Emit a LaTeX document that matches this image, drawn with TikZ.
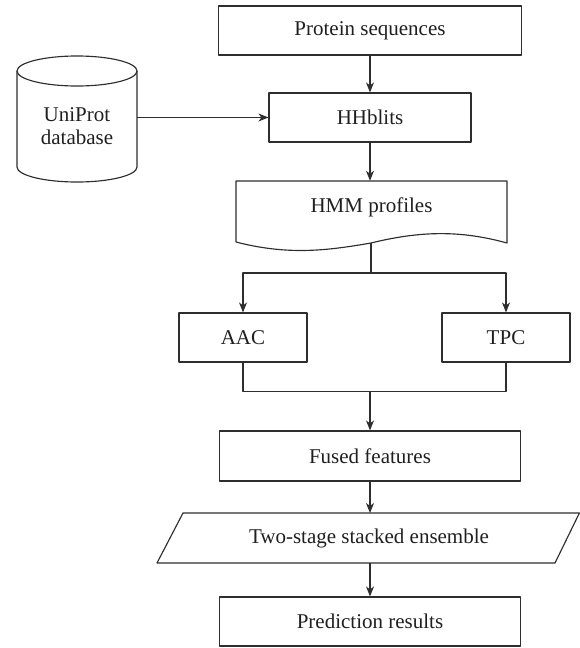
\documentclass[tikz,border=0pt]{standalone}
\usepackage{fontspec}
\setmainfont{Liberation Serif}
\usetikzlibrary{arrows.meta,calc}
\begin{document}
\begin{tikzpicture}[x=1pt,y=-1pt,
  every node/.style={font=\fontsize{21}{23}\selectfont, text=black!88},
  conn/.style={draw=black!82, line width=1.15pt, line join=round},
  arr/.style={conn, -{Stealth[length=10pt,width=8pt,inset=3pt]}},
  procbox/.style={conn, minimum width=303pt, minimum height=49pt, inner sep=0pt},
  plain/.style={inner sep=0pt, align=center}]
\useasboundingbox (0,0) rectangle (580,648);
% nodes
\node[procbox] (prot) at (370,30.5) {Protein sequences};
\node[procbox, minimum width=202pt] (hh) at (370,117.5) {HHblits};
\node[plain] (uni) at (77,126) {UniProt\\database};
\node[plain, minimum width=271pt, minimum height=52pt] (hmm) at (371.5,207) {HMM profiles};
\node[procbox, minimum width=128pt] (aac) at (243,337.5) {AAC};
\node[procbox, minimum width=128pt] (tpc) at (506,337.5) {TPC};
\node[procbox, minimum width=301pt, minimum height=50pt] (fus) at (370,456) {Fused features};
\node[plain, minimum width=398pt, minimum height=50pt] (ens) at (369,538) {Two-stage stacked ensemble};
\node[procbox, minimum width=301pt] (pred) at (370,621.5) {Prediction results};
% cylinder
\draw[conn] (77,71) ellipse [x radius=60pt, y radius=15pt];
\draw[conn] (17,71) -- (17,167) arc[start angle=180, end angle=360, x radius=60pt, y radius=15pt] -- (137,71);
\coordinate (uniE) at (137,117.5);
% document shape
\draw[conn] (236,242) -- (236,181) -- (507,181) -- (507,243)
  .. controls (460,230) and (420,231) .. (371,243)
  .. controls (330,250) and (290,256) .. (236,242);
\coordinate (hmmB) at (371,243);
% parallelogram
\draw[conn] (183,513) -- (579.4,513) -- (555,563) -- (157,563) -- cycle;
% connectors
\draw[arr] (prot) -- (hh);
\draw[arr] (uniE) -- (hh.west);
\draw[arr] (hh.south) -- (hh.south |- hmm.north);
\draw[conn] (hmmB) -- ++(0,30) coordinate (split);
\draw[arr] (split) -| (aac.north);
\draw[arr] (split) -| (tpc.north);
\draw[conn] (aac.south) -- ++(0,29) coordinate (aacD) -- (aacD -| tpc.south) -- (tpc.south);
\coordinate (merge) at (aacD -| fus.north);
\draw[arr] (merge) -- (fus.north);
\draw[arr] (fus.south) -- (fus.south |- 0,513);
\draw[arr] (pred.north |- 0,563) -- (pred.north);
\end{tikzpicture}
\end{document}
